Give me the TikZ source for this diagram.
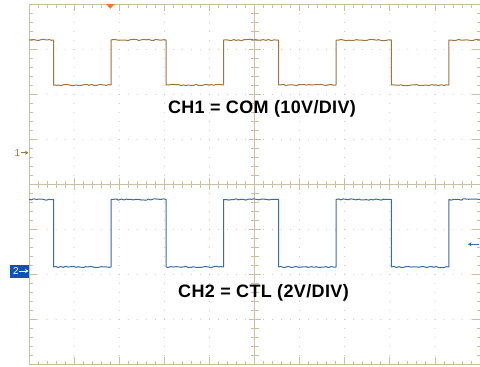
\documentclass[tikz,border=0pt]{standalone}
\usepackage{fontspec}
\setmainfont{Liberation Sans}
\newfontfamily\capfont[LetterSpace=2]{Liberation Sans}
\usetikzlibrary{arrows.meta, decorations.pathmorphing}
\definecolor{gridtan}{HTML}{C8C0A2}
\definecolor{comtrace}{HTML}{9E7442}
\definecolor{ctltrace}{HTML}{3A6B9E}
\definecolor{tagblue}{HTML}{1450B4}
\definecolor{trigorange}{HTML}{F07828}
\tikzset{
  grid line/.style={gridtan, line width=0.8pt},
  grid dot/.style={fill=gridtan},
  trace/.style={line width=1pt, line join=round,
    decoration={random steps, segment length=2.5pt, amplitude=0.7pt}},
  com trace/.style={trace, comtrace},
  ctl trace/.style={trace, ctltrace},
  caption/.style={font=\capfont\bfseries\fontsize{18}{21}\selectfont, inner sep=0pt, anchor=base},
  chan num/.style={font=\fontsize{10}{11}\selectfont, inner sep=0.5pt},
  chan tag/.style={fill=tagblue, minimum width=19.5pt, minimum height=13pt, inner sep=0pt},
  marker arrow/.style={-{Stealth[length=3.5pt, width=4pt]}, line width=0.9pt}
}

\begin{document}
\begin{tikzpicture}[x=1pt, y=-1pt]
    \useasboundingbox (0,0) rectangle (480,367);

    % dotted graticule
    \foreach \i in {1,...,9}
      \foreach \j in {1,...,39}
        \fill[grid dot] ({29+\i*45.1},{4.3+\j*9}) circle (0.55pt);
    \foreach \k in {1,...,7}
      \foreach \j in {1,...,49}
        \fill[grid dot] ({29+\j*9.02},{4.3+\k*45}) circle (0.55pt);

    % border and centre axes
    \draw[grid line] (29,4.3) rectangle (480,364.3);
    \draw[grid line] (29,184.3) -- (480,184.3);
    \draw[grid line] (254.5,4.3) -- (254.5,364.3);

    % minor ticks
    \foreach \j in {1,...,49} {
      \draw[grid line] ({29+\j*9.02},4.3) -- ++(0,3.5);
      \draw[grid line] ({29+\j*9.02},364.3) -- ++(0,-3.5);
      \draw[grid line] ({29+\j*9.02},180.8) -- ++(0,7);
    }
    \foreach \j in {1,...,39} {
      \draw[grid line] (29,{4.3+\j*9}) -- ++(3.5,0);
      \draw[grid line] (480,{4.3+\j*9}) -- ++(-3.5,0);
      \draw[grid line] (250.5,{4.3+\j*9}) -- ++(8,0);
    }
    % major ticks
    \foreach \i in {1,...,9} {
      \draw[grid line] ({29+\i*45.1},4.3) -- ++(0,7);
      \draw[grid line] ({29+\i*45.1},364.3) -- ++(0,-7);
      \draw[grid line] ({29+\i*45.1},178.3) -- ++(0,12);
    }
    \foreach \k in {1,...,7} {
      \draw[grid line] (29,{4.3+\k*45}) -- ++(8,0);
      \draw[grid line] (480,{4.3+\k*45}) -- ++(-8,0);
      \draw[grid line] (248.5,{4.3+\k*45}) -- ++(12,0);
    }

    % trigger position
    \fill[trigorange] (106,4) -- (114.6,4) -- (110.3,8.8) -- cycle;

    % CH1 = COM
    \draw[com trace] (29,40) decorate{-- (53.5,40)} -- (53.5,85)
      decorate{-- (111,85)} -- (111,40) decorate{-- (166.1,40)} -- (166.1,85)
      decorate{-- (223.6,85)} -- (223.6,40) decorate{-- (278.7,40)} -- (278.7,85)
      decorate{-- (336.2,85)} -- (336.2,40) decorate{-- (391.3,40)} -- (391.3,85)
      decorate{-- (448.8,85)} -- (448.8,40) decorate{-- (480,40)};

    % CH2 = CTL
    \draw[ctl trace] (29,199.5) decorate{-- (53.5,199.5)} -- (53.5,267)
      decorate{-- (111,267)} -- (111,199.5) decorate{-- (166.1,199.5)} -- (166.1,267)
      decorate{-- (223.6,267)} -- (223.6,199.5) decorate{-- (278.7,199.5)} -- (278.7,267)
      decorate{-- (336.2,267)} -- (336.2,199.5) decorate{-- (391.3,199.5)} -- (391.3,267)
      decorate{-- (448.8,267)} -- (448.8,199.5) decorate{-- (480,199.5)};

    \node[caption] (com label) at (262,113.5) {CH1 = COM (10V/DIV)};
    \node[caption] (ctl label) at (263.5,297.3) {CH2 = CTL (2V/DIV)};

    % channel ground markers
    \node[chan num, text=comtrace] (ch1 num) at (17.5,152.7) {1};
    \coordinate (ch1 ref) at (28.5,152.7);
    \draw[marker arrow, comtrace] (ch1 num.east) -- (ch1 ref);

    \node[chan tag] (ch2 tag) at (19.3,271) {};
    \node[chan num, text=white] (ch2 num) at (16,271) {2};
    \coordinate (ch2 ref) at (28.5,271);
    \draw[marker arrow, white] (ch2 num.east) -- (ch2 ref);

    % trigger level
    \coordinate (trig end) at (479,244.3);
    \coordinate (trig level) at (468,244.3);
    \draw[marker arrow, ctltrace] (trig end) -- (trig level);
\end{tikzpicture}
\end{document}
